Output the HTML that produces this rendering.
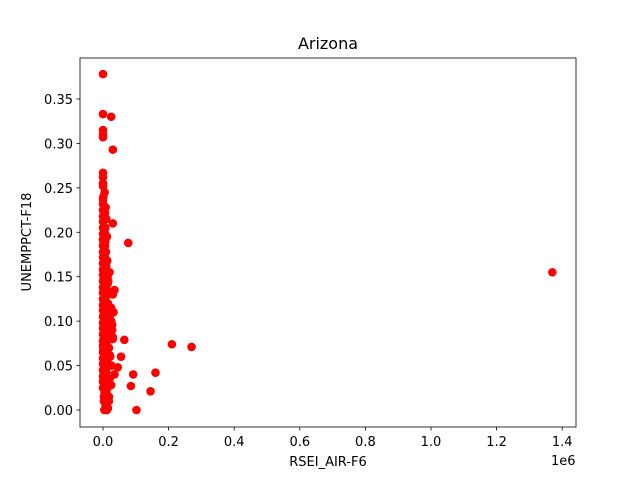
<!DOCTYPE html>
<html><head><meta charset="utf-8"><style>body{margin:0;background:#fff}svg{display:block;font-family:"DejaVu Sans","Liberation Sans",sans-serif}</style></head>
<body>
<svg id="chart" width="640" height="480">
<rect width="640" height="480" fill="#fff"/>
<g id="marks"></g>
<g id="axes"></g>
</svg>
<script>
const xVals=[0,0,0,0,0,25000,30000,30000,77000,0,0,0,0,0,0,0,0,0,0,0,0,0,0,0,0,0,0,0,0,0,0,0,0,0,0,0,0,0,0,0,0,0,0,0,0,0,
5000,8000,10000,12000,6000,9000,14000,7000,11000,15000,20000,25000,28000,30000,18000,22000,26000,35000,30000,
25000,20000,32000,55000,65000,28000,30000,45000,35000,20000,25000,92000,85000,160000,145000,210000,270000,102000,
18000,12000,15000,10000,8000,5000,3000,6000,9000,4000,2000,1370000,
1000,3000,2000,4000,3000,2000,5000,1000,2000,3000,6000,4000,2000,3000,1000,5000,7000,4000,
8000,9000,10000,12000,8000,10000,12000,14000,9000,11000,13000,15000,10000,12000,14000,16000,8000,10000,12000,14000,16000,18000,10000,12000,15000,18000,20000,8000,11000,14000,17000,20000,10000,13000,16000,6000,9000,12000,7000,10000,5000,8000,6000,7000,5000];
const yVals=[0.378,0.333,0.315,0.31,0.307,0.33,0.293,0.21,0.188,0.267,0.262,0.255,0.252,0.237,0.232,0.225,0.218,0.212,0.205,0.198,0.192,0.185,0.178,0.172,0.165,0.158,0.152,0.145,0.138,0.132,0.125,0.118,0.112,0.105,0.098,0.092,0.085,0.078,0.072,0.065,0.058,0.052,0.045,0.038,0.032,0.025,
0.018,0.012,0.005,0.0,0.172,0.16,0.15,0.14,0.13,0.12,0.11,0.1,0.09,0.08,0.07,0.06,0.05,0.135,0.13,
0.115,0.105,0.11,0.06,0.079,0.096,0.082,0.048,0.04,0.035,0.028,0.04,0.027,0.042,0.021,0.074,0.071,0.0,
0.015,0.008,0.002,0.0,0.03,0.02,0.01,0.065,0.055,0.045,0.075,0.155,
0.24,0.228,0.2,0.175,0.148,0.122,0.095,0.068,0.042,0.015,0.088,0.062,0.035,0.11,0.19,0.14,0.02,0.0,
0.005,0.012,0.02,0.028,0.035,0.043,0.05,0.058,0.065,0.073,0.08,0.088,0.095,0.102,0.108,0.115,0.122,0.128,0.135,0.142,0.118,0.098,0.075,0.052,0.03,0.01,0.062,0.04,0.085,0.025,0.07,0.155,0.162,0.168,0.145,0.185,0.178,0.195,0.205,0.215,0.2,0.228,0.222,0.19,0.245];
const xTicks=[0,0.2,0.4,0.6,0.8,1.0,1.2,1.4];
const yTicks=[0,0.05,0.1,0.15,0.2,0.25,0.3,0.35];
const L=80,R=576,T=58,B=427;
const sx=v=>103+v/1e6*328;
const sy=v=>410-v/0.05*44.43;
const NS="http://www.w3.org/2000/svg";
const marks=document.getElementById('marks'),axes=document.getElementById('axes');
function mk(p,tag,at){const e=document.createElementNS(NS,tag);for(const k in at)e.setAttribute(k,at[k]);p.appendChild(e);return e;}
xVals.forEach((x,i)=>{
const c=mk(marks,'circle',{cx:sx(x),cy:sy(yVals[i]),r:4.3,fill:'#ff0000'});


});
const fr=mk(axes,'rect',{x:L,y:T,width:R-L,height:B-T,fill:'none',stroke:'#000','stroke-width':0.8});


xTicks.forEach(t=>{const x=sx(t*1e6);mk(axes,'line',{x1:x,x2:x,y1:B,y2:B+3.5,stroke:'#000','stroke-width':0.8});
const tx=mk(axes,'text',{x:x,y:B+19,'text-anchor':'middle','font-size':13,fill:'#000'});tx.textContent=t.toFixed(1);

});
yTicks.forEach(t=>{const y=sy(t);mk(axes,'line',{x1:L-3.5,x2:L,y1:y,y2:y,stroke:'#000','stroke-width':0.8});
const tx=mk(axes,'text',{x:L-7,y:y+5,'text-anchor':'end','font-size':13,fill:'#000'});tx.textContent=t.toFixed(2);

});
</script>
<svg style="position:absolute;left:0;top:0" width="640" height="480" font-family="DejaVu Sans, Liberation Sans, sans-serif">
<text x="328" y="49" text-anchor="middle" font-size="16">Arizona</text>
<text x="328" y="466" text-anchor="middle" font-size="13">RSEI_AIR-F6</text>
<text x="551" y="465" font-size="13">1e6</text>
<text transform="translate(31,242) rotate(-90)" text-anchor="middle" font-size="13">UNEMPPCT-F18</text>
</svg>
</body></html>
